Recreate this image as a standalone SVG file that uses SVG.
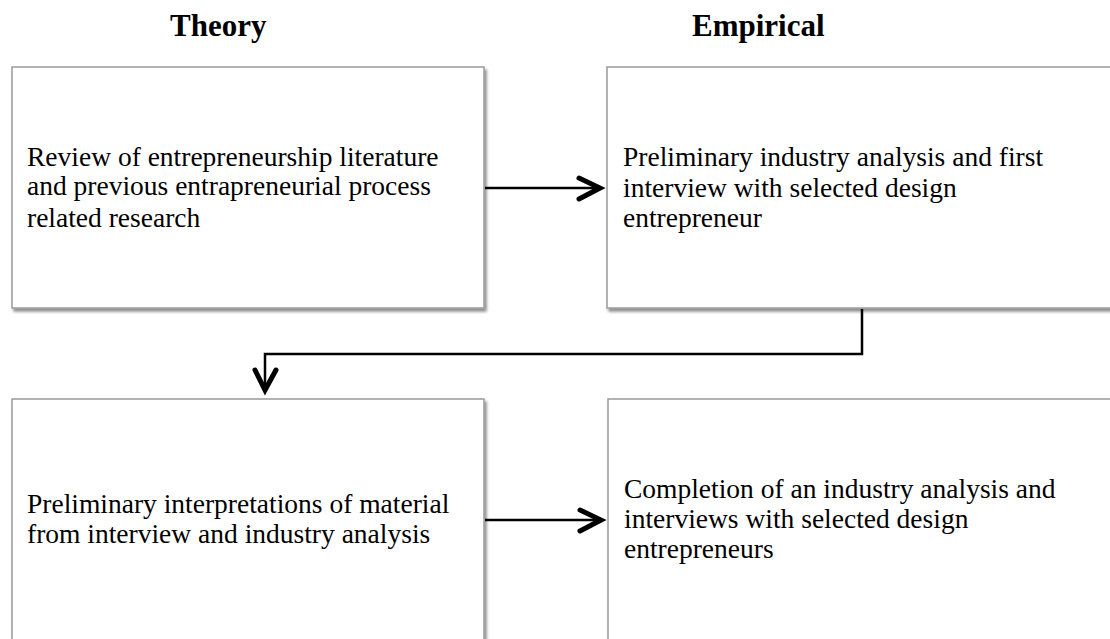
<svg xmlns="http://www.w3.org/2000/svg" width="1110" height="639" viewBox="0 0 1110 639">
  <style>
    .box { fill: #ffffff; stroke: #9a9a9a; stroke-width: 1.5; filter: url(#shadow); }
    .label { font-family: "Liberation Serif", "Times New Roman", serif; font-size: 27.5px; fill: #000000; }
    .head { font-family: "Liberation Serif", "Times New Roman", serif; font-size: 31px; font-weight: bold; fill: #000000; }
    .wire { fill: none; stroke: #000000; stroke-width: 2.5; }
    .tip { fill: none; stroke: #000000; stroke-width: 5; stroke-linecap: round; stroke-linejoin: miter; }
  </style>
  <defs>
    <filter id="shadow" x="-5%" y="-5%" width="112%" height="115%">
      <feGaussianBlur in="SourceAlpha" stdDeviation="1.6"/>
      <feOffset dx="1.5" dy="2.5" result="blur"/>
      <feComponentTransfer><feFuncA type="linear" slope="0.45"/></feComponentTransfer>
      <feMerge><feMergeNode/><feMergeNode in="SourceGraphic"/></feMerge>
    </filter>
  </defs>
  <rect width="1110" height="639" fill="#ffffff"/>

  <!-- column headings -->
  <text class="head" x="170" y="36">Theory</text>
  <text class="head" x="692" y="36">Empirical</text>

  <g id="node-review">
    <rect class="box" x="12" y="67" width="472" height="241"/>
    <text class="label" x="27" y="166">Review of entrepreneurship literature</text>
    <text class="label" x="27" y="195">and previous entrapreneurial process</text>
    <text class="label" x="27" y="227">related research</text>
  </g>

  <g id="node-preliminary-analysis">
    <rect class="box" x="607" y="67" width="520" height="241"/>
    <text class="label" x="623" y="166">Preliminary industry analysis and first</text>
    <text class="label" x="623" y="197">interview with selected design</text>
    <text class="label" x="623" y="227">entrepreneur</text>
  </g>

  <g id="node-interpretations">
    <rect class="box" x="12" y="399" width="472" height="260"/>
    <text class="label" x="27" y="513">Preliminary interpretations of material</text>
    <text class="label" x="27" y="543">from interview and industry analysis</text>
  </g>

  <g id="node-completion">
    <rect class="box" x="608" y="399" width="520" height="260"/>
    <text class="label" x="624" y="498">Completion of an industry analysis and</text>
    <text class="label" x="624" y="528">interviews with selected design</text>
    <text class="label" x="624" y="558">entrepreneurs</text>
  </g>

  <g id="connectors">
    <!-- review -> preliminary analysis -->
    <line class="wire" x1="485" y1="188" x2="600" y2="188"/>
    <polyline class="tip" points="579,178 600,188 579,199"/>
    <!-- preliminary analysis -> interpretations -->
    <polyline class="wire" points="862,309 862,354 265,354 265,389"/>
    <polyline class="tip" points="255,370 265,390 276,370"/>
    <!-- interpretations -> completion -->
    <line class="wire" x1="485" y1="520" x2="601" y2="520"/>
    <polyline class="tip" points="580,510 601,520 580,531"/>
  </g>
</svg>
